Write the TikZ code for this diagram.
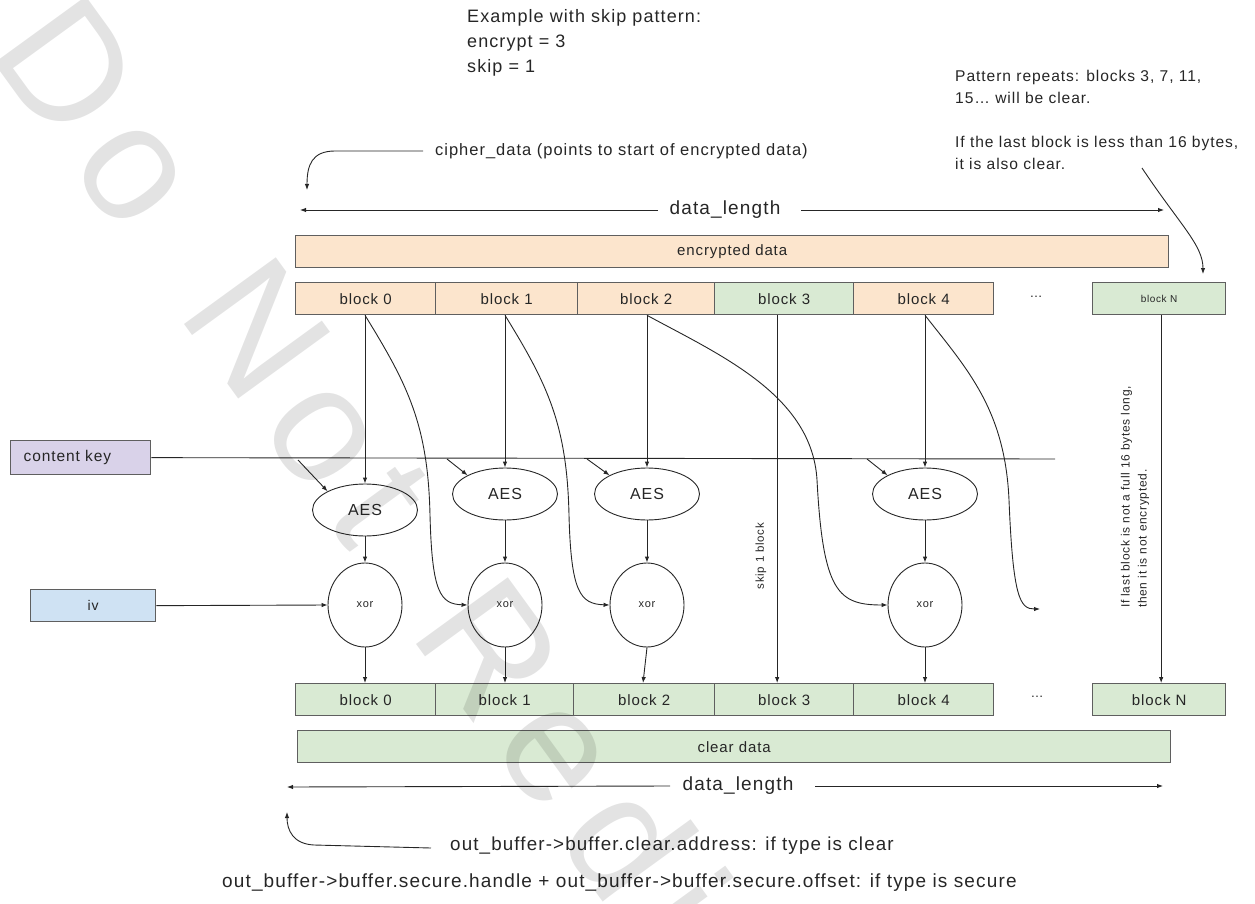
\documentclass[tikz,border=0pt]{standalone}
\usepackage{fontspec}
\setmainfont{Liberation Sans}[LetterSpace=6]
\newfontfamily\wmfont{Liberation Sans}
\usetikzlibrary{arrows.meta,shapes.geometric}
\definecolor{peach}{HTML}{FCE5CD}
\definecolor{mint}{HTML}{D9EAD3}
\definecolor{lav}{HTML}{D9D2E9}
\definecolor{sky}{HTML}{CFE2F3}
\definecolor{edgegray}{HTML}{5F5F5F}
\definecolor{ink}{HTML}{262626}
\newcommand{\myfs}[1]{\fontsize{#1}{#1}\selectfont}
\begin{document}
\begin{tikzpicture}[x=1pt,y=-1pt,
  blk/.style={draw=edgegray, line width=1.3pt, inner sep=0pt, anchor=north west, minimum height=32pt, text=ink, font=\myfs{15}},
  bar/.style={blk, minimum width=873pt, font=\myfs{15}},
  oval/.style={ellipse, draw=ink, line width=0.9pt, inner sep=0pt, text=ink},
  aesn/.style={oval, minimum width=105pt, minimum height=52pt, font=\myfs{16}},
  xorn/.style={oval, minimum width=74pt, minimum height=84pt, font=\myfs{11}},
  arr/.style={draw=ink, line width=0.9pt, -{Latex[length=6pt,width=4.5pt]}},
  ln/.style={draw=ink, line width=0.9pt},
  lbl/.style={text=ink, inner sep=0pt}
]
\useasboundingbox (0,0) rectangle (1255,904);

% header texts
\node[lbl, anchor=north west, align=left, font=\fontsize{18}{25}\selectfont] (ex) at (467,9) {Example with skip pattern:\\encrypt = 3\\skip = 1};
\node[lbl, anchor=north west, align=left, font=\fontsize{15.6}{22}\selectfont] (pat) at (955,70) {Pattern repeats: blocks 3, 7, 11,\\15\ldots{} will be clear.\\[22pt]If the last block is less than 16 bytes,\\it is also clear.};

% cipher_data
\node[lbl, anchor=west, font=\myfs{16.5}] (cipher) at (435,151) {cipher\_data (points to start of encrypted data)};
\coordinate (cs) at (423,151);
\coordinate (ce) at (307,190);
\draw[arr] (cs) -- (335,151) .. controls (312,151) and (307,165) .. (ce);

% top data_length
\node[lbl, font=\myfs{19}] (dl1) at (725,210) {data\_length};
\coordinate (dl1a) at (658,210);
\coordinate (dl1b) at (300,210);
\coordinate (dl1c) at (801,210);
\coordinate (dl1d) at (1164,210);
\draw[arr] (dl1a) -- (dl1b);
\draw[arr] (dl1c) -- (dl1d);

% encrypted data
\node[bar, fill=peach] (enc) at (295,235) {encrypted data};

% top blocks
\node[blk, fill=peach, minimum width=140pt] (t0) at (295,282) {block 0};
\node[blk, fill=peach, minimum width=142pt] (t1) at (435,282) {block 1};
\node[blk, fill=peach, minimum width=137pt] (t2) at (577,282) {block 2};
\node[blk, fill=mint, minimum width=139pt] (t3) at (714,282) {block 3};
\node[blk, fill=peach, minimum width=140pt] (t4) at (853,282) {block 4};
\node[lbl, font=\myfs{13}] (dots1) at (1036,297) {\ldots};
\node[blk, fill=mint, minimum width=133pt, font=\myfs{10}] (tN) at (1092,282) {block N};

% pattern arrow
\coordinate (pa) at (1142,168);
\coordinate (pb) at (1203,274);
\draw[arr] (pa) .. controls (1180,225) and (1203,245) .. (pb);

% key and iv
\node[blk, fill=lav, minimum width=140pt, minimum height=34pt, font=\myfs{15.5}, text width=114pt, inner xsep=13pt, align=left] (key) at (10,440) {content key};
\coordinate (keyend) at (1055,459);
\draw[ln] (key.east) -- (keyend);
\node[blk, fill=sky, minimum width=125pt, font=\myfs{14}] (iv) at (30,589) {iv};

% AES and xor
\node[aesn] (aes0) at (365,510) {AES};
\node[aesn] (aes1) at (505,494) {AES};
\node[aesn] (aes2) at (647,494) {AES};
\node[aesn] (aes4) at (925,494) {AES};
\node[xorn] (xor0) at (365,605) {xor};
\node[xorn] (xor1) at (505,605) {xor};
\node[xorn] (xor2) at (647,605) {xor};
\node[xorn] (xor4) at (925,605) {xor};

% bottom blocks
\node[blk, fill=mint, minimum width=140pt] (c0) at (295,683) {block 0};
\node[blk, fill=mint, minimum width=138pt] (c1) at (435,683) {block 1};
\node[blk, fill=mint, minimum width=141pt] (c2) at (573,683) {block 2};
\node[blk, fill=mint, minimum width=139pt] (c3) at (714,683) {block 3};
\node[blk, fill=mint, minimum width=140pt] (c4) at (853,683) {block 4};
\node[lbl, font=\myfs{13}] (dots2) at (1037,697) {\ldots};
\node[blk, fill=mint, minimum width=133pt] (cN) at (1092,683) {block N};

\node[bar, fill=mint] (clr) at (297,730) {clear data};

% block -> AES
\draw[arr] (t0.south -| aes0.north) -- (aes0.north);
\draw[arr] (t1.south -| aes1.north) -- (aes1.north);
\draw[arr] (t2.south -| aes2.north) -- (aes2.north);
\draw[arr] (t4.south -| aes4.north) -- (aes4.north);
% key -> AES
\coordinate (k0) at (298,460);
\coordinate (k1) at (447,459);
\coordinate (k2) at (587,459);
\coordinate (k4) at (867,459);
\draw[arr] (k0) -- (aes0.north west);
\draw[arr] (k1) -- (aes1.north west);
\draw[arr] (k2) -- (aes2.north west);
\draw[arr] (k4) -- (aes4.north west);
% AES -> xor
\draw[arr] (aes0.south) -- (xor0.north);
\draw[arr] (aes1.south) -- (xor1.north);
\draw[arr] (aes2.south) -- (xor2.north);
\draw[arr] (aes4.south) -- (xor4.north);
% iv -> xor0
\draw[arr] (iv.east) -- (xor0.west);
% xor -> clear blocks
\draw[arr] (xor0.south) -- (xor0.south |- c0.north);
\draw[arr] (xor1.south) -- (xor1.south |- c1.north);
\draw[arr] (xor2.south) -- ([xshift=-4pt]xor2.south |- c2.north);
\draw[arr] (xor4.south) -- (xor4.south |- c4.north);
% skipped / last block
\draw[arr] ([xshift=-7pt]t3.south) -- ([xshift=-7pt]c3.north);
\draw[arr] ([xshift=2pt]tN.south) -- ([xshift=2pt]tN.south |- cN.north);

% chained curves
\draw[arr] (t0.south -| aes0.north) .. controls (408,385) and (428,425) .. (430,515) .. controls (432,592) and (440,604) .. (xor1.west);
\draw[arr] (t1.south -| aes1.north) .. controls (548,385) and (567,425) .. (569,515) .. controls (571,592) and (580,604) .. (xor2.west);
\draw[arr] (t2.south -| aes2.north) .. controls (720,355) and (812,395) .. (817,480) .. controls (823,592) and (838,605) .. (xor4.west);
\coordinate (c4end) at (1040,609);
\draw[arr] (t4.south -| aes4.north) .. controls (968,370) and (1005,410) .. (1009,500) .. controls (1013,598) and (1020,609) .. (c4end);

% rotated notes
\node[lbl, rotate=90, font=\myfs{11.5}] (skip) at (761,556) {skip 1 block};
\node[lbl, rotate=90, align=left, font=\fontsize{12}{17}\selectfont] (lastnote) at (1135,497) {If last block is not a full 16 bytes long,\\then it is not encrypted.};

% bottom data_length
\node[lbl, font=\myfs{19}] (dl2) at (738,786) {data\_length};
\coordinate (dl2a) at (670,786);
\coordinate (dl2b) at (287,787);
\coordinate (dl2c) at (815,786);
\coordinate (dl2d) at (1163,786);
\draw[arr] (dl2a) -- (dl2b);
\draw[arr] (dl2c) -- (dl2d);

% out buffer texts
\node[lbl, anchor=west, font=\myfs{18.8}] (outclr) at (450,846) {out\_buffer->buffer.clear.address: if type is clear};
\coordinate (bs) at (431,848);
\coordinate (be) at (287,812);
\draw[arr] (bs) -- (314,845) .. controls (293,844) and (287,830) .. (be);
\node[lbl, anchor=west, font=\myfs{19}] (outsec) at (222,883) {out\_buffer->buffer.secure.handle + out\_buffer->buffer.secure.offset: if type is secure};

% watermark
\begin{scope}
\clip (0,0) rectangle (1255,904);
\foreach \ch/\s [count=\i] in {D/0, o/138, N/323, o/461, t/574, R/718, e/856, d/969, i/1082, s/1145}
  \node[inner sep=0pt, anchor=base west, rotate=-54, text=black, text opacity=0.11, font=\wmfont\myfs{165}] (wm\i) at ({-14+\s*0.588},{52+\s*0.809}) {\ch};
\end{scope}
\end{tikzpicture}
\end{document}
